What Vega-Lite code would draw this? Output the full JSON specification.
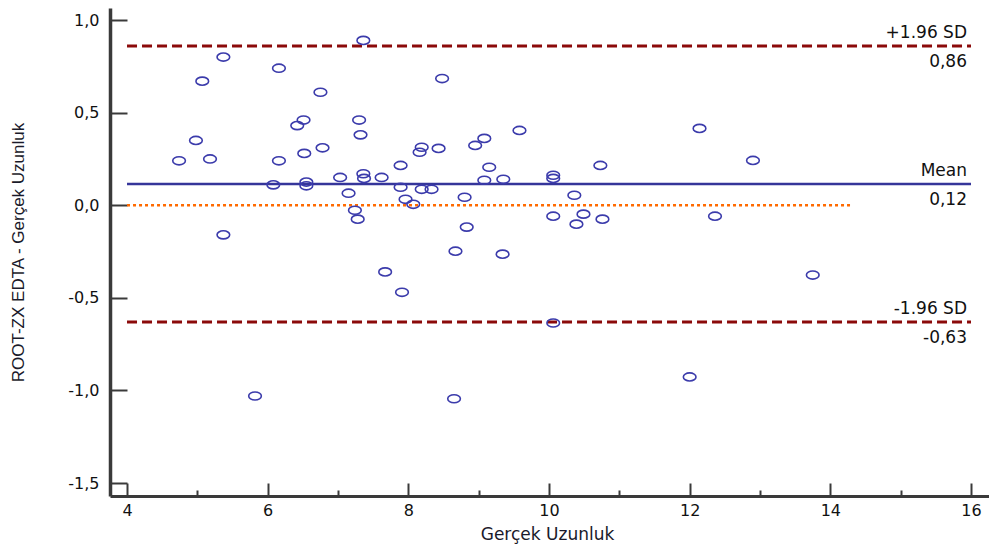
{
  "$schema": "https://vega.github.io/schema/vega-lite/v6.json",
  "autosize": {"type": "none"},
  "padding": {"left": 110, "top": 8, "right": 0, "bottom": 52},
  "width": 879,
  "height": 488,
  "background": "white",
  "config": {"view": {"stroke": null}},
  "datasets": {
    "points": [
      {"avg": 4.74, "diff": 0.24}, {"avg": 4.98, "diff": 0.35}, {"avg": 5.07, "diff": 0.67}, {"avg": 5.18, "diff": 0.25},
      {"avg": 5.37, "diff": 0.80}, {"avg": 5.37, "diff": -0.16}, {"avg": 5.82, "diff": -1.03}, {"avg": 6.08, "diff": 0.11},
      {"avg": 6.16, "diff": 0.74}, {"avg": 6.16, "diff": 0.24}, {"avg": 6.42, "diff": 0.43}, {"avg": 6.51, "diff": 0.46},
      {"avg": 6.52, "diff": 0.28}, {"avg": 6.55, "diff": 0.125}, {"avg": 6.55, "diff": 0.105}, {"avg": 6.75, "diff": 0.61},
      {"avg": 6.78, "diff": 0.31}, {"avg": 7.03, "diff": 0.15}, {"avg": 7.15, "diff": 0.065}, {"avg": 7.24, "diff": -0.027},
      {"avg": 7.28, "diff": -0.075}, {"avg": 7.30, "diff": 0.46}, {"avg": 7.32, "diff": 0.38}, {"avg": 7.36, "diff": 0.89},
      {"avg": 7.36, "diff": 0.17}, {"avg": 7.37, "diff": 0.145}, {"avg": 7.62, "diff": 0.15}, {"avg": 7.67, "diff": -0.36},
      {"avg": 7.89, "diff": 0.215}, {"avg": 7.89, "diff": 0.097}, {"avg": 7.91, "diff": -0.47}, {"avg": 7.96, "diff": 0.032},
      {"avg": 8.07, "diff": 0.005}, {"avg": 8.16, "diff": 0.286}, {"avg": 8.19, "diff": 0.313}, {"avg": 8.19, "diff": 0.086},
      {"avg": 8.33, "diff": 0.086}, {"avg": 8.43, "diff": 0.307}, {"avg": 8.48, "diff": 0.684}, {"avg": 8.65, "diff": -1.045},
      {"avg": 8.67, "diff": -0.248}, {"avg": 8.80, "diff": 0.043}, {"avg": 8.83, "diff": -0.118}, {"avg": 8.95, "diff": 0.323},
      {"avg": 9.08, "diff": 0.361}, {"avg": 9.08, "diff": 0.135}, {"avg": 9.15, "diff": 0.205}, {"avg": 9.34, "diff": -0.264},
      {"avg": 9.35, "diff": 0.14}, {"avg": 9.58, "diff": 0.404}, {"avg": 10.06, "diff": 0.162}, {"avg": 10.06, "diff": 0.145},
      {"avg": 10.06, "diff": -0.059}, {"avg": 10.06, "diff": -0.636}, {"avg": 10.36, "diff": 0.054}, {"avg": 10.39, "diff": -0.102},
      {"avg": 10.49, "diff": -0.048}, {"avg": 10.73, "diff": 0.215}, {"avg": 10.76, "diff": -0.075}, {"avg": 12.0, "diff": -0.927},
      {"avg": 12.14, "diff": 0.415}, {"avg": 12.36, "diff": -0.059}, {"avg": 12.90, "diff": 0.242}, {"avg": 13.75, "diff": -0.377}
    ],
    "limits": [
      {"name": "+1.96 SD", "y": 0.86, "x1": 4, "x2": 16, "val": "0,86"},
      {"name": "-1.96 SD", "y": -0.63, "x1": 4, "x2": 16, "val": "-0,63"}
    ],
    "mean": [
      {"name": "Mean", "y": 0.115, "x1": 4, "x2": 16, "val": "0,12"}
    ],
    "zero": [
      {"y": 0, "x1": 4, "x2": 14.3}
    ],
    "labels": [
      {"name": "+1.96 SD", "y": 0.86, "xr": 16, "val": "0,86"},
      {"name": "Mean", "y": 0.115, "xr": 16, "val": "0,12"},
      {"name": "-1.96 SD", "y": -0.63, "xr": 16, "val": "-0,63"}
    ]
  },
  "layer": [
    {
      "data": {"name": "zero"},
      "mark": {"type": "rule", "color": "#ff6a00", "strokeWidth": 2.5, "strokeDash": [3, 3]},
      "encoding": {
        "x": {"field": "x1", "type": "quantitative",
          "scale": {"domain": [3.758, 16.256], "nice": false, "zero": false},
          "axis": {
            "values": [4, 5, 6, 7, 8, 9, 10, 11, 12, 13, 14, 15, 16],
            "format": "d",
            "labelExpr": "datum.value % 2 === 0 ? datum.label : ''",
            "tickSize": {"condition": {"test": "datum.value % 2 === 1", "value": -6}, "value": -13},
            "labelPadding": 19,
            "grid": false,
            "domainColor": "#3a3a3a", "domainWidth": 3,
            "tickColor": "#3a3a3a", "tickWidth": 2,
            "labelFont": "DejaVu Sans", "labelFontSize": 16, "labelColor": "#111",
            "labelFlush": false, "labelOverlap": false,
            "title": "Gerçek Uzunluk",
            "titleFont": "DejaVu Sans", "titleFontSize": 17, "titleFontWeight": "normal", "titleColor": "#1a1a2a",
            "titleX": 437, "titleY": 38, "titleAlign": "center", "titleBaseline": "middle"
          }
        },
        "x2": {"field": "x2"},
        "y": {"field": "y", "type": "quantitative",
          "scale": {"domain": [-1.570, 1.065], "nice": false, "zero": false},
          "axis": {
            "values": [-1.5, -1, -0.5, 0, 0.5, 1],
            "labelExpr": "replace(replace(format(datum.value, '.1f'), '.', ','), '\u2212', '-')",
            "tickSize": -17,
            "labelPadding": 28,
            "grid": false,
            "domainColor": "#3a3a3a", "domainWidth": 3.5,
            "tickColor": "#3a3a3a", "tickWidth": 2,
            "labelFont": "DejaVu Sans", "labelFontSize": 16, "labelColor": "#111",
            "labelFlush": false, "labelOverlap": false,
            "title": "ROOT-ZX EDTA - Gerçek Uzunluk",
            "titleFont": "Liberation Sans", "titleFontSize": 17, "titleFontWeight": "normal", "titleColor": "#1a1a2a",
            "titleAngle": -90, "titleX": -92, "titleY": 244, "titleAlign": "center", "titleBaseline": "middle"
          }
        }
      }
    },
    {
      "data": {"name": "limits"},
      "mark": {"type": "rule", "color": "#8b0a0a", "strokeWidth": 3, "strokeDash": [10, 5]},
      "encoding": {
        "x": {"field": "x1", "type": "quantitative"},
        "x2": {"field": "x2"},
        "y": {"field": "y", "type": "quantitative"}
      }
    },
    {
      "data": {"name": "mean"},
      "mark": {"type": "rule", "color": "#35359a", "strokeWidth": 2.5},
      "encoding": {
        "x": {"field": "x1", "type": "quantitative"},
        "x2": {"field": "x2"},
        "y": {"field": "y", "type": "quantitative"}
      }
    },
    {
      "data": {"name": "points"},
      "mark": {"type": "point", "shape": "M-1,0C-1,-0.3535,-0.5523,-0.64,0,-0.64C0.5523,-0.64,1,-0.3535,1,0C1,0.3535,0.5523,0.64,0,0.64C-0.5523,0.64,-1,0.3535,-1,0Z", "size": 160, "filled": false, "stroke": "#3b3bab", "strokeWidth": 1.6, "opacity": 1},
      "encoding": {
        "x": {"field": "avg", "type": "quantitative"},
        "y": {"field": "diff", "type": "quantitative"}
      }
    },
    {
      "data": {"name": "labels"},
      "mark": {"type": "text", "align": "right", "baseline": "bottom", "dx": -4, "dy": -4, "font": "DejaVu Sans", "fontSize": 17, "color": "#111"},
      "encoding": {
        "x": {"field": "xr", "type": "quantitative"},
        "y": {"field": "y", "type": "quantitative"},
        "text": {"field": "name"}
      }
    },
    {
      "data": {"name": "labels"},
      "mark": {"type": "text", "align": "right", "baseline": "top", "dx": -4, "dy": 8, "font": "DejaVu Sans", "fontSize": 17, "color": "#111"},
      "encoding": {
        "x": {"field": "xr", "type": "quantitative"},
        "y": {"field": "y", "type": "quantitative"},
        "text": {"field": "val"}
      }
    }
  ]
}
